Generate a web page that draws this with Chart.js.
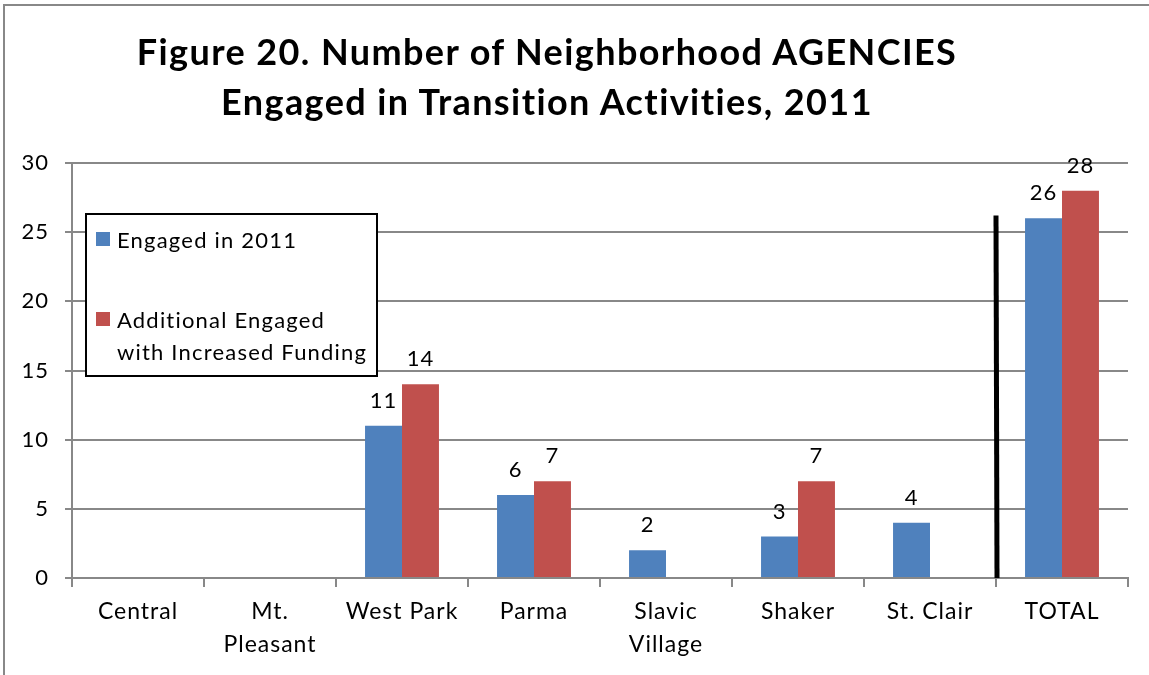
<!DOCTYPE html>
<html>
<head>
<meta charset="utf-8">
<script src="https://cdn.jsdelivr.net/npm/chart.js@4/dist/chart.umd.min.js"></script>
<style>
  body { margin: 0; background: #fff; }
  #wrap { position: relative; width: 1149px; height: 675px; overflow: hidden; font-family: Lato, "Open Sans", sans-serif; font-variant-ligatures: none; }
  #frame { position: absolute; left: 3px; top: 4px; width: 1200px; height: 700px; border-left: 2px solid #888; border-top: 2px solid #888; }
  #title { position: absolute; left: 0; top: 26px; width: 1094px; text-align: center; font-weight: bold; font-size: 36px; letter-spacing: 1.4px; line-height: 50px; color: #000; }
  #legend { position: absolute; left: 85px; top: 213px; width: 289px; height: 160px; border: 2px solid #000; background: #fff; font-size: 22px; letter-spacing: 1.2px; color: #000; }
  .sw { position: absolute; left: 9px; width: 14px; height: 14px; }
  .txt { position: absolute; left: 30px; white-space: nowrap; line-height: 32px; }
  canvas { position: absolute; left: 0; top: 0; }
</style>
</head>
<body>
<div id="wrap">
  <canvas id="chart" width="1149" height="675"></canvas>
  <div id="frame"></div>
  <div id="title">Figure 20. Number of Neighborhood AGENCIES<br>Engaged in Transition Activities, 2011</div>
  <div id="legend">
    <span class="sw" style="top:17px;background:#4F81BD"></span><span class="txt" style="top:9px">Engaged in 2011</span>
    <span class="sw" style="top:97px;background:#C0504D"></span><span class="txt" style="top:89px">Additional Engaged<br>with Increased Funding</span>
  </div>
</div>
<script>
// data
const categories = ['Central', ['Mt.', 'Pleasant'], 'West Park', 'Parma', ['Slavic', 'Village'], 'Shaker', 'St. Clair', 'TOTAL'];
const engaged = [null, null, 11, 6, 2, 3, 4, 26];
const additional = [null, null, 14, 7, null, 7, null, 28];
const yTicks = [0, 5, 10, 15, 20, 25, 30];
const separatorTop = 26.2; // top of the black divider, in axis units

const FONT = 'Lato, "Open Sans", sans-serif';

// Lato runs narrower than the original font, open it up a little
const spacing = {
  id: 'spacing',
  beforeUpdate(chart) { chart.ctx.letterSpacing = '1px'; },
  beforeDraw(chart) { chart.ctx.letterSpacing = '1px'; }
};

// value labels above the bars
const valueLabels = {
  id: 'valueLabels',
  afterDatasetsDraw(chart) {
    const ctx = chart.ctx;
    ctx.save();
    ctx.font = '22px ' + FONT;
    ctx.fillStyle = '#000';
    ctx.textAlign = 'center';
    ctx.textBaseline = 'alphabetic';
    chart.data.datasets.forEach((ds, i) => {
      chart.getDatasetMeta(i).data.forEach((el, j) => {
        if (ds.data[j] == null) return;
        ctx.fillText(String(ds.data[j]), el.x, el.y - 18);
      });
    });
    ctx.restore();
  }
};

// black divider before TOTAL
const divider = {
  id: 'divider',
  afterDatasetsDraw(chart) {
    const x = chart.scales.x, y = chart.scales.y;
    const px = (x.getPixelForValue(6) + x.getPixelForValue(7)) / 2;
    const ctx = chart.ctx;
    ctx.save();
    ctx.strokeStyle = '#000';
    ctx.lineWidth = 5;
    ctx.beginPath();
    ctx.moveTo(px, y.getPixelForValue(separatorTop));
    ctx.lineTo(px + 1, y.getPixelForValue(0));
    ctx.stroke();
    ctx.restore();
  }
};

new Chart(document.getElementById('chart'), {
  type: 'bar',
  data: {
    labels: categories,
    datasets: [
      { label: 'Engaged in 2011', data: engaged, backgroundColor: '#4F81BD' },
      { label: 'Additional Engaged with Increased Funding', data: additional, backgroundColor: '#C0504D' }
    ]
  },
  options: {
    responsive: false,
    animation: false,
    categoryPercentage: 0.56,
    barPercentage: 1.0,
    layout: { padding: { left: 0, right: 21, top: 163, bottom: 0 } },
    plugins: {
      legend: { display: false },
      title: { display: false },
      tooltip: { enabled: false }
    },
    scales: {
      x: {
        grid: { offset: true, drawOnChartArea: false, color: '#888', lineWidth: 2, tickLength: 9 },
        border: { color: '#888', width: 2 },
        ticks: { color: '#000', font: { family: FONT, size: 23, lineHeight: 1.43 }, maxRotation: 0, autoSkip: false, padding: 8 },
        afterFit(scale) { scale.height = 97; }
      },
      y: {
        min: 0, max: 30,
        afterBuildTicks(scale) { scale.ticks = yTicks.map(v => ({ value: v })); },
        grid: { color: '#888', lineWidth: 2, tickLength: 7 },
        border: { color: '#888', width: 2 },
        ticks: { color: '#000', font: { family: FONT, size: 22 }, padding: 16 },
        afterFit(scale) { scale.width = 72; }
      }
    }
  },
  plugins: [spacing, valueLabels, divider]
});
</script>
</body>
</html>
